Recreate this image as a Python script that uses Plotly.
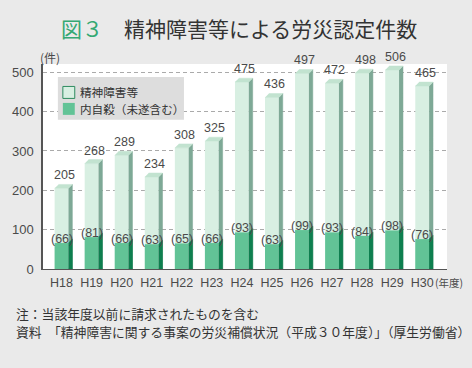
import plotly.graph_objects as go

# ---------------- data ----------------
years = ["H18", "H19", "H20", "H21", "H22", "H23", "H24",
         "H25", "H26", "H27", "H28", "H29", "H30"]
total = [205, 268, 289, 234, 308, 325, 475, 436, 497, 472, 498, 506, 465]
suicide = [66, 81, 66, 63, 65, 66, 93, 63, 99, 93, 84, 98, 76]
series_names = ["精神障害等", "内自殺（未遂含む）"]
y_ticks = [0, 100, 200, 300, 400, 500]

# ---------------- layout geometry (pixels) ----------------
W, H = 472, 368
L, R, T, B = 40, 447, 64, 269.5
BW, DX, DY = 0.46, 0.13, 10  # bar width, 3D side depth (x units), 3D lift (y units)

C_FRONT = "#d8efe2"
C_TOP = "#c2e3d0"
C_SIDE = "#7ea996"
C_IN_FRONT = "#62c396"
C_IN_SIDE = "#0e7f4f"
NUM_FONT = "Liberation Sans Narrow, Liberation Sans, Arial, sans-serif"
JP_FONT = "Noto Sans CJK JP, Noto Sans, sans-serif"
TXT = "#4a4a4a"


def px(x):
    return (x - L) / (R - L)


def py(y):
    return (B - y) / (B - T)


idx = list(range(len(years)))

fig = go.Figure()

# front faces
fig.add_trace(go.Bar(x=idx, y=total, width=BW, marker=dict(color=C_FRONT, line=dict(width=0)),
                     name=series_names[0], showlegend=False))
fig.add_trace(go.Bar(x=idx, y=suicide, width=BW, marker=dict(color=C_IN_FRONT, line=dict(width=0)),
                     name=series_names[1], showlegend=False))

# side and top faces (3D look), computed from the data values
sx, sy, tx, ty, ix, iy = [], [], [], [], [], []
for i, v, s in zip(idx, total, suicide):
    r = i + BW / 2
    sx += [r, r + DX, r + DX, r, None]
    sy += [0, 0, v + DY, v, None]
    tx += [i - BW / 2, r, r + DX, i - BW / 2 + DX, None]
    ty += [v, v, v + DY, v + DY, None]
    ix += [r, r + DX, r + DX, r, None]
    iy += [0, 0, s + DY, s, None]

for xs, ys, col in [(sx, sy, C_SIDE), (tx, ty, C_TOP), (ix, iy, C_IN_SIDE)]:
    fig.add_trace(go.Scatter(x=xs, y=ys, mode="lines", fill="toself", fillcolor=col,
                             line=dict(width=0.5, color=col), hoverinfo="skip", showlegend=False))

annotations = []
# value labels
for i, v, s in zip(idx, total, suicide):
    annotations.append(dict(x=i + DX / 2, y=v, xref="x", yref="y", text=str(v), showarrow=False,
                            yanchor="middle", yshift=13, xshift=1,
                            font=dict(family=NUM_FONT, size=12.5, color=TXT)))
    annotations.append(dict(x=i, y=s, xref="x", yref="y", text=f"({s})", showarrow=False,
                            yanchor="middle", yshift=4,
                            font=dict(family=NUM_FONT, size=12.5, color=TXT)))

# title
annotations.append(dict(x=px(237), y=py(28), xref="paper", yref="paper", showarrow=False,
                        text="<span style='color:#34a873'>図３</span>　精神障害等による労災認定件数",
                        font=dict(family=JP_FONT, size=21, color="#333333"),
                        xanchor="center", yanchor="middle"))
# unit labels
annotations.append(dict(x=px(47.5), y=py(57), xref="paper", yref="paper", showarrow=False,
                        text="(件)", font=dict(family=JP_FONT, size=12, color=TXT),
                        xanchor="center", yanchor="middle"))
annotations.append(dict(x=px(434), y=py(283), xref="paper", yref="paper", showarrow=False,
                        text="(年度)", font=dict(family=JP_FONT, size=10.5, color=TXT),
                        xanchor="left", yanchor="middle", borderpad=0))
# notes
annotations.append(dict(x=px(12), y=py(314), xref="paper", yref="paper", showarrow=False,
                        text="注：当該年度以前に請求されたものを含む",
                        font=dict(family=JP_FONT, size=12.8, color="#333333"),
                        xanchor="left", yanchor="middle", borderpad=0))
annotations.append(dict(x=px(12), y=py(332), xref="paper", yref="paper", showarrow=False,
                        text="資料　「精神障害に関する事案の労災補償状況（平成３０年度）」（厚生労働省）",
                        font=dict(family=JP_FONT, size=12.8, color="#333333"),
                        xanchor="left", yanchor="middle", borderpad=0))
# legend text
annotations.append(dict(x=px(76), y=py(92), xref="paper", yref="paper", showarrow=False,
                        text=series_names[0], font=dict(family=JP_FONT, size=11.6, color="#333333"),
                        xanchor="left", yanchor="middle", borderpad=0))
annotations.append(dict(x=px(76), y=py(109), xref="paper", yref="paper", showarrow=False,
                        text=series_names[1], font=dict(family=JP_FONT, size=11.6, color="#333333"),
                        xanchor="left", yanchor="middle", borderpad=0))

shapes = [
    dict(type="rect", xref="paper", yref="paper", x0=px(55), x1=px(182), y0=py(120), y1=py(77),
         fillcolor="#dddddd", line=dict(width=0), layer="above"),
    dict(type="rect", xref="paper", yref="paper", x0=px(60), x1=px(72), y0=py(98.5), y1=py(86.5),
         fillcolor=C_FRONT, line=dict(width=1, color="#2e8b5f"), layer="above"),
    dict(type="rect", xref="paper", yref="paper", x0=px(60), x1=px(72), y0=py(115), y1=py(103),
         fillcolor=C_IN_FRONT, line=dict(width=0), layer="above"),
]

fig.update_layout(
    width=W, height=H,
    margin=dict(l=L, r=W - R, t=T, b=H - B, pad=0),
    paper_bgcolor="#eaeaea", plot_bgcolor="#ffffff",
    barmode="overlay", showlegend=False,
    annotations=annotations, shapes=shapes,
    xaxis=dict(range=[-(58.7 - L) / 30.3, 12 + (R - 422) / 30.3], tickvals=idx, ticktext=years,
               showgrid=False, zeroline=False, showline=True, linecolor="#555555", linewidth=1.2,
               ticks="", ticklabelstandoff=2,
               tickfont=dict(family=NUM_FONT, size=12.5, color=TXT), fixedrange=True),
    yaxis=dict(range=[0, (B - T) / ((B - 72.3) / 500)], tickvals=y_ticks,
               showgrid=True, gridcolor="#aaaaaa", griddash="4px,3px", gridwidth=1,
               zeroline=False, showline=True, linecolor="#555555", linewidth=1.5,
               ticks="", ticklabelstandoff=5,
               tickfont=dict(family=NUM_FONT, size=13, color=TXT), fixedrange=True),
)

fig.write_html("out.html", config={"displayModeBar": False},
               post_script="document.body.style.margin='0px';")
